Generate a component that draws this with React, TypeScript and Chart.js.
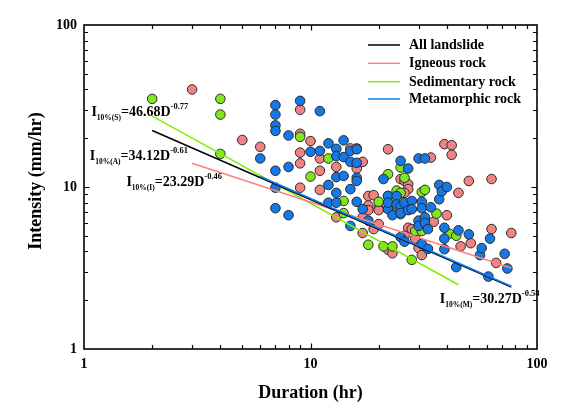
import React, { useEffect, useRef } from "react";
import { Chart, registerables } from "chart.js";

Chart.register(...registerables);

// ---- Data (duration in hr, intensity in mm/hr) ----
const igneousD = [3, 5, 6, 9, 9, 9, 9, 9, 10, 11, 11, 11, 13, 13, 15, 16, 16, 17, 17, 17, 18, 19, 18, 20, 18, 20, 19, 20, 22, 22, 23, 25, 26, 27, 27, 26, 27, 26, 28, 29, 30, 31, 34, 35, 39, 42, 42, 40, 45, 46, 50, 51, 63, 63, 66, 77];
const igneousI = [40, 19.5, 17.7, 30, 21.3, 16.3, 14, 9.9, 19.2, 15, 12.6, 9.6, 13.3, 6.5, 17.3, 17.3, 13, 14.3, 6.5, 5.2, 8.8, 8.9, 7.7, 7.4, 7.2, 7.2, 5.5, 5.9, 17.1, 4.1, 3.9, 11.2, 10.9, 10.4, 9.7, 9.2, 5.6, 5.0, 5.5, 4.8, 4.2, 3.8, 15.2, 6.1, 18.4, 18.1, 15.8, 6.7, 9.2, 4.3, 10.9, 4.5, 11.2, 5.5, 3.4, 5.2];

const sedimentaryD = [2, 4, 4, 4, 9, 10, 12, 14, 14, 18, 20, 21, 22, 22, 23, 23, 24, 24, 25, 25, 25, 26, 28, 29, 31, 31, 32, 36, 41, 44];
const sedimentaryI = [35, 35, 28, 16, 20.4, 11.6, 15, 8.2, 6.9, 4.4, 8.1, 4.3, 12, 8.8, 4.3, 8.3, 9.5, 7.6, 13.2, 9.2, 6.8, 11.4, 3.55, 5.35, 5.35, 9.3, 9.6, 6.85, 5.15, 5.0];

const metamorphicD = [6, 7, 7, 7, 7, 7, 7, 7, 8, 8, 8, 9, 10, 11, 11, 12, 12, 12, 13, 13, 13, 13, 13, 14, 14, 14, 15, 15, 15, 15, 16, 16, 16, 16, 16, 17, 18, 21, 22, 22, 22, 23, 24, 24, 25, 25, 25, 25, 26, 26, 27, 27, 28, 28, 30, 30, 30, 31, 31, 31, 32, 32, 32, 33, 33, 34, 37, 37, 38, 39, 39, 39, 40, 44, 45, 50, 56, 57, 61, 62, 72, 74];
const metamorphicI = [15, 32, 28, 24, 22.2, 12.6, 9.9, 7.4, 20.8, 13.3, 6.7, 34, 16.5, 29.4, 16.7, 18.6, 10.3, 8.0, 17.2, 15.5, 11.5, 9.2, 8.0, 19.4, 15.3, 11.7, 16.7, 14.3, 9.7, 5.75, 17.1, 14.1, 11.4, 10.9, 8.1, 7.3, 6.2, 11.2, 8.8, 7.3, 8.0, 6.7, 8.8, 7.8, 14.5, 7.6, 6.9, 4.9, 8.0, 4.6, 13, 7.2, 8.2, 7.3, 15, 6.2, 5.75, 8.1, 7.4, 4.45, 15, 6.5, 6.0, 5.5, 4.15, 7.5, 10.3, 8.4, 9.4, 5.6, 4.8, 4.13, 10, 3.2, 5.4, 5.1, 3.8, 4.2, 2.8, 4.8, 3.87, 3.14];

// Threshold lines (end points)
const lineAllD = [2, 77];
const lineAllI = [22.3, 2.41];
const lineIgnD = [3, 77];
const lineIgnI = [14.0, 3.16];
const lineSedD = [2, 45];
const lineSedI = [27.4, 2.49];
const lineMetD = [6, 77];
const lineMetI = [11.6, 2.44];

const xTickLabels = [1, 10, 100];
const yTickLabels = [1, 10, 100];

const legendLabels = ["All landslide", "Igneous rock", "Sedimentary rock", "Metamorphic rock"];
const eqSubs = ["10%(S)", "10%(A)", "10%(I)", "10%(M)"];
const eqMains = ["=46.68D", "=34.12D", "=23.29D", "=30.27D"];
const eqSups = ["-0.77", "-0.61", "-0.46", "-0.58"];

const COL_IGN_PT = "#F08282";
const COL_SED_PT = "#80E620";
const COL_MET_PT = "#1478E6";
const COL_IGN_LN = "#FF8080";
const COL_SED_LN = "#80F000";
const COL_MET_LN = "#0A7CF0";
const COL_ALL_LN = "#000000";

const FONT = "'Liberation Serif', 'Times New Roman', serif";

const zip = (xs: number[], ys: number[]) => xs.map((x, i) => ({ x, y: ys[i] }));

const decorPlugin = {
  id: "decor",
  afterDatasetsDraw(chart: any) {
    const { ctx, chartArea } = chart;
    const xs = chart.scales.x;
    const ys = chart.scales.y;
    const { left, right, top, bottom } = chartArea;
    ctx.save();
    // frame
    ctx.strokeStyle = "#000";
    ctx.lineWidth = 1.6;
    ctx.strokeRect(left, top, right - left, bottom - top);
    // inward ticks
    ctx.lineWidth = 1.2;
    ctx.beginPath();
    for (let d = 1; d <= 10; d *= 10) {
      for (let m = 1; m <= 9; m++) {
        const v = m * d;
        const len = m === 1 ? 5.5 : 4;
        const px = Math.round(xs.getPixelForValue(v)) + 0.5;
        const py = Math.round(ys.getPixelForValue(v)) + 0.5;
        if (m !== 1 || d !== 1) {
          ctx.moveTo(px, bottom); ctx.lineTo(px, bottom - len);
          ctx.moveTo(px, top); ctx.lineTo(px, top + len);
          ctx.moveTo(left, py); ctx.lineTo(left + len, py);
          ctx.moveTo(right, py); ctx.lineTo(right - len, py);
        }
      }
    }
    ctx.stroke();

    // equations
    const eqAnchors = [
      { x: 1.078, y: 27.4 },
      { x: 1.06, y: 14.7 },
      { x: 1.539, y: 10.14 },
      { x: 37.2, y: 1.91 },
    ];
    ctx.fillStyle = "#000";
    ctx.textBaseline = "alphabetic";
    ctx.textAlign = "left";
    eqAnchors.forEach((a, i) => {
      let x = xs.getPixelForValue(a.x);
      const y = ys.getPixelForValue(a.y);
      ctx.font = `bold 14px ${FONT}`;
      ctx.fillText("I", x, y);
      x += ctx.measureText("I").width;
      ctx.font = `bold 7.5px ${FONT}`;
      ctx.fillText(eqSubs[i], x, y + 4);
      x += ctx.measureText(eqSubs[i]).width;
      ctx.font = `bold 14px ${FONT}`;
      ctx.fillText(eqMains[i], x, y);
      x += ctx.measureText(eqMains[i]).width;
      ctx.font = `bold 8.5px ${FONT}`;
      ctx.fillText(eqSups[i], x, y - 7);
    });

    // legend
    const legendColors = [COL_ALL_LN, COL_IGN_LN, COL_SED_LN, COL_MET_LN];
    const rowY = [top + 20, top + 38.3, top + 56.7, top + 74];
    ctx.textBaseline = "middle";
    ctx.font = `bold 14px ${FONT}`;
    legendLabels.forEach((lab, i) => {
      ctx.strokeStyle = legendColors[i];
      ctx.lineWidth = 1.5;
      ctx.beginPath();
      ctx.moveTo(right - 169, rowY[i]);
      ctx.lineTo(right - 137, rowY[i]);
      ctx.stroke();
      ctx.fillStyle = "#000";
      ctx.fillText(lab, right - 128, rowY[i] + 0.5);
    });

    // axis titles
    ctx.font = `bold 18px ${FONT}`;
    ctx.textAlign = "center";
    ctx.textBaseline = "middle";
    ctx.fillText("Duration (hr)", (left + right) / 2, 393);
    ctx.save();
    ctx.translate(36, 181);
    ctx.rotate(-Math.PI / 2);
    ctx.fillText("Intensity (mm/hr)", 0, 0);
    ctx.restore();
    ctx.restore();
  },
};

const isLabel = (v: number, list: number[]) => list.some((t) => Math.abs(t - v) < 1e-6 * t);

export default function App() {
  const ref = useRef<HTMLCanvasElement | null>(null);
  useEffect(() => {
    document.body.style.margin = "0";
    const canvas = ref.current;
    if (!canvas) return;
    const pointDs = (label: string, d: number[], v: number[], color: string, order: number) => ({
      type: "scatter" as const,
      label,
      data: zip(d, v),
      backgroundColor: color,
      borderColor: "#2b2b2b",
      borderWidth: 1,
      pointRadius: 4.8,
      order,
    });
    const lineDs = (label: string, d: number[], v: number[], color: string, order: number) => ({
      type: "line" as const,
      label,
      data: zip(d, v),
      borderColor: color,
      backgroundColor: color,
      borderWidth: 1.6,
      pointRadius: 0,
      showLine: true,
      fill: false,
      order,
    });
    const chart = new Chart(canvas, {
      type: "scatter",
      data: {
        datasets: [
          lineDs("Metamorphic rock", lineMetD, lineMetI, COL_MET_LN, 0),
          lineDs("All landslide", lineAllD, lineAllI, COL_ALL_LN, 1),
          lineDs("Igneous rock", lineIgnD, lineIgnI, COL_IGN_LN, 2),
          lineDs("Sedimentary rock", lineSedD, lineSedI, COL_SED_LN, 3),
          pointDs("Metamorphic", metamorphicD, metamorphicI, COL_MET_PT, 4),
          pointDs("Sedimentary", sedimentaryD, sedimentaryI, COL_SED_PT, 5),
          pointDs("Igneous", igneousD, igneousI, COL_IGN_PT, 6),
        ] as any,
      },
      options: {
        animation: false,
        responsive: false,
        events: [],
        layout: { padding: { top: 25, right: 48, left: 0, bottom: 0 } },
        plugins: { legend: { display: false }, tooltip: { enabled: false } },
        scales: {
          x: {
            type: "logarithmic",
            min: 1,
            max: 100,
            grid: { display: false, drawTicks: false },
            border: { display: false },
            ticks: {
              autoSkip: false,
              maxRotation: 0,
              padding: 7,
              color: "#000",
              font: { family: FONT, size: 14, weight: "bold" },
              callback: (v: any) => (isLabel(Number(v), xTickLabels) ? String(Math.round(Number(v))) : ""),
            },
            afterFit: (s: any) => {
              s.height = 62;
            },
          },
          y: {
            type: "logarithmic",
            min: 1,
            max: 100,
            grid: { display: false, drawTicks: false },
            border: { display: false },
            ticks: {
              autoSkip: false,
              padding: 7,
              color: "#000",
              font: { family: FONT, size: 14, weight: "bold" },
              callback: (v: any) => (isLabel(Number(v), yTickLabels) ? String(Math.round(Number(v))) : ""),
            },
            afterFit: (s: any) => {
              s.width = 84;
            },
          },
        },
      } as any,
      plugins: [decorPlugin],
    });
    return () => chart.destroy();
  }, []);
  return (
    <div style={{ width: 585, height: 411, background: "#fff" }}>
      <canvas ref={ref} width={585} height={411} style={{ display: "block" }} />
    </div>
  );
}
